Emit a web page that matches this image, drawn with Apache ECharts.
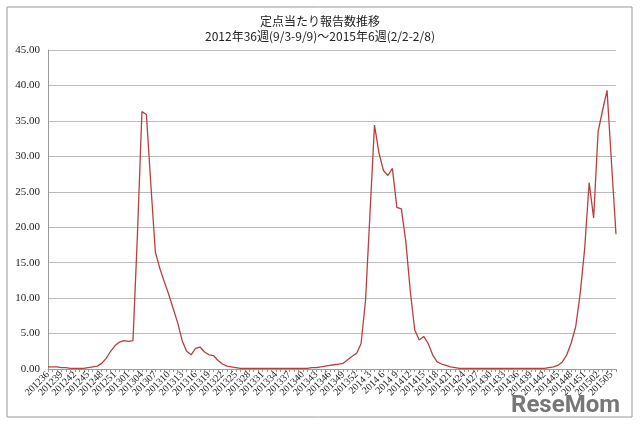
<!DOCTYPE html>
<html><head><meta charset="utf-8">
<script src="https://cdn.jsdelivr.net/npm/echarts@6/dist/echarts.min.js"></script>
<style>html,body{margin:0;background:#fff}#main{width:640px;height:424px}</style>
</head><body><div id="main"></div>
<script>
// week labels 2012/36 .. 2015/06 (2012 has 53 weeks)
var weeks = [];
for (var w = 36; w <= 53; w++) weeks.push('2012' + w);
for (var w = 1; w <= 52; w++) weeks.push('2013' + (w < 10 ? '0' + w : w));
for (var w = 1; w <= 52; w++) weeks.push('2014' + (w < 10 ? ' ' + w : w));
for (var w = 1; w <= 6; w++) weeks.push('20150' + w);

var y2012_13 = [0.3,0.3,0.3,0.2,0.2,0.1,0.1,0.1,0.1,0.2,0.3,0.4,0.8,1.5,2.5,3.3,3.8,4.0,3.9,4.0,19,36.3,35.9,26,16.5,14.2,12.3,10.5,8.5,6.5,4.0,2.5,2.0,2.9,3.1,2.4,2.0,1.9,1.2,0.7,0.4,0.3,0.2,0.1,0.1,0.1,0.1,0.1,0.1,0.1,0.1,0.1,0.1,0.1,0.1,0.1,0.1,0.1,0.1];
var y2014a = [0.2,0.2,0.3,0.4,0.5,0.6,0.7,0.8,1.3,1.8,2.2,3.6,9.7,22,34.4,30.5,28,27.3,28.3,22.8,22.6,18,11,5.5,4.1,4.6,3.6,2.0,1.0,0.7,0.5,0.3,0.2];
var y2014b = [0.1,0.1,0.1,0.1,0.1,0.1,0.1,0.1,0.1,0.1,0.1,0.1,0.1,0.1,0.1,0.1,0.1,0.1,0.1,0.1,0.2,0.3,0.5,1.0,2.0,3.7,6,10.7,17,26.3,21.3,33.5,36.5,39.3,29,19];
var values = y2012_13.concat(y2014a, y2014b);

var chart = echarts.init(document.getElementById('main'));
chart.setOption({
  animation: false,
  title: {
    text: '定点当たり報告数推移',
    subtext: '2012年36週(9/3-9/9)～2015年6週(2/2-2/8)',
    left: 'center', top: 10, itemGap: 3,
    textStyle: {fontSize: 12, fontWeight: 'normal', color: '#222', fontFamily: 'Noto Sans CJK JP'},
    subtextStyle: {fontSize: 12, color: '#222', fontFamily: 'Noto Sans CJK JP'}
  },
  graphic: [
    {type: 'rect', shape: {x: 7, y: 7, width: 625, height: 410}, style: {fill: 'none', stroke: '#999', lineWidth: 1}},
    {type: 'text', right: 20, bottom: 6, style: {text: 'ReseMom', fontSize: 24, fontWeight: 'bold', fill: '#777', fontFamily: 'Roboto'}}
  ],
  grid: {left: 48, right: 24, top: 50, bottom: 55},
  xAxis: {
    type: 'category', data: weeks, boundaryGap: false,
    axisLine: {lineStyle: {color: '#999'}},
    axisTick: {show: true, interval: 0, length: 3, lineStyle: {color: '#999'}},
    axisLabel: {interval: 0, rotate: 45, fontSize: 10, color: '#222', fontFamily: 'Liberation Serif', margin: 4,
      hideOverlap: false,
      formatter: function (v, i) { return i % 3 === 0 ? v : ''; }}
  },
  yAxis: {
    type: 'value', min: 0, max: 45, interval: 5,
    axisLine: {show: true, lineStyle: {color: '#999'}},
    axisTick: {show: false},
    splitLine: {lineStyle: {color: '#bbb'}},
    axisLabel: {formatter: function (v) { return v.toFixed(2); }, fontSize: 11, color: '#222', fontFamily: 'Liberation Serif', margin: 8}
  },
  series: [{
    type: 'line', data: values, showSymbol: false,
    lineStyle: {color: '#b5403f', width: 1.3}
  }]
});
</script></body></html>
